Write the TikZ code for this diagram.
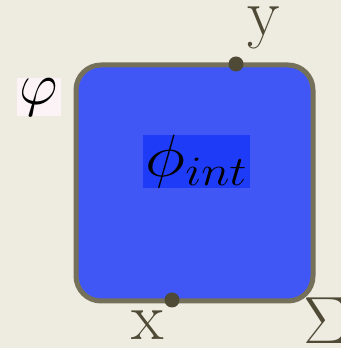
\RequirePackage{fix-cm}
\documentclass[tikz,border=0pt]{standalone}
\usepackage{amsmath,amssymb}
\usepackage{graphicx}
\usetikzlibrary{positioning}
\definecolor{paper}{HTML}{EEEBE1}
\definecolor{surf}{HTML}{4056F5}
\definecolor{surfdark}{HTML}{1E3CF8}
\definecolor{rim}{HTML}{75705A}
\definecolor{ink}{HTML}{4F4A35}
\definecolor{tag}{HTML}{FBF3F5}

\begin{document}
\begin{tikzpicture}[every node/.style={align=center}, bigfont/.style={font=\fontsize{38}{40}\selectfont},
    point/.style={circle, fill=ink, inner sep=0pt, minimum size=0.3cm}]
    \fill[paper] ({0},{0}) rectangle ({6.82},{6.96});
    \useasboundingbox ({0},{0}) rectangle ({6.82},{6.96});
    \node[draw=rim, line width=0.1cm, fill=surf, rounded corners=0.5cm, inner sep=0pt, minimum width=4.74cm, minimum height=4.72cm] (square) at ({3.89},{3.30}) {};
    \node[font=\fontsize{34}{36}\selectfont, fill=surfdark, inner sep=0pt, text height=0.82cm, text depth=0.24cm, minimum width=2.14cm] (phiint) at ({3.93},{3.72}) {\scalebox{1.15}[1]{$\phi_{int}$}};
    \node[font=\fontsize{34}{36}\selectfont, fill=tag, inner sep=0pt, minimum width=0.88cm, minimum height=0.76cm] (varphilabel) at ({0.78},{5.02}) {$\varphi$};

    \node[point] (ydot) at ({4.72},{5.68}) {};
    \node[point] (xdot) at ({3.44},{0.96}) {};
    \node[bigfont, text=ink, inner sep=0pt] (ylabel) at ({5.27},{6.40}) {y};
    \node[bigfont, text=ink, inner sep=0pt] (xlabel) at ({2.96},{0.46}) {x};
    \node[bigfont, text=ink, inner sep=0pt] (sigma) at ({6.52},{0.54}) {$\Sigma$};
\end{tikzpicture}
\end{document}
